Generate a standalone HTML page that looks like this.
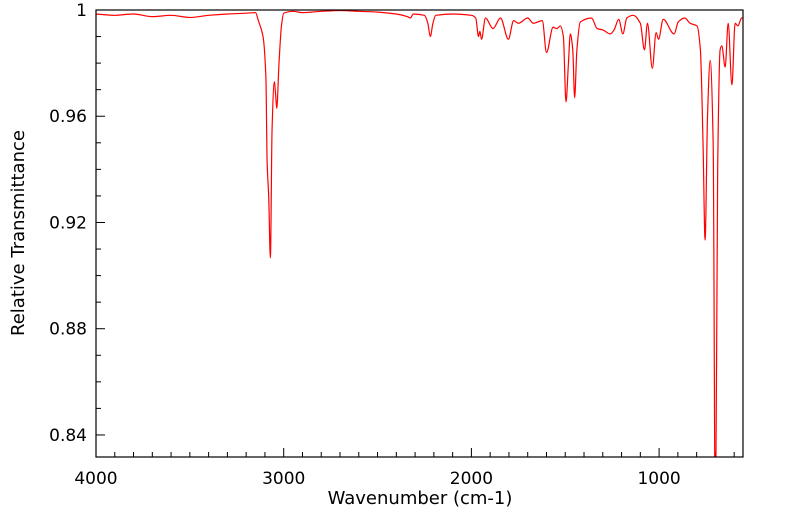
<!DOCTYPE html>
<html><head><meta charset="utf-8"><style>
body{margin:0;background:#fff;}
svg{display:block;font-family:"DejaVu Sans","Liberation Sans",sans-serif;}
</style></head><body>
<svg id="chart" width="799" height="516">
<defs><clipPath id="clip"><rect x="96" y="10" width="647" height="447"/></clipPath></defs>
<g id="axes"></g>
<g clip-path="url(#clip)"><path id="spectrum" fill="none" stroke="#ff0000" stroke-width="1.2"/></g>
<rect x="96" y="10" width="647" height="447" fill="none" stroke="#000" stroke-width="1.2"/>
<text x="420" y="504" font-size="18" text-anchor="middle">Wavenumber (cm-1)</text>
<text x="24" y="233" font-size="18" text-anchor="middle" transform="rotate(-90 24 233)">Relative Transmittance</text>
</svg>
<script>
const wavenumbers=[4000,3900,3800,3700,3600,3500,3400,3300,3200,3150,3135,3110,3095,3088,3080,3071,3062,3050,3043,3037,3025,3012,3000,2950,2900,2800,2700,2600,2500,2400,2340,2325,2310,2250,2232,2219,2205,2190,2100,2000,1977,1962,1955,1946,1925,1885,1845,1803,1775,1750,1700,1670,1622,1600,1565,1545,1526,1510,1496,1483,1473,1460,1450,1438,1420,1360,1330,1300,1260,1240,1215,1193,1172,1138,1100,1078,1062,1036,1016,1003,978,920,898,863,835,798,780,766,755,742,728,712,700,688,675,666,648,632,612,595,580,560,550];
const transmittances=[0.9985,0.998,0.9985,0.9975,0.998,0.9972,0.998,0.9985,0.9988,0.999,0.996,0.99,0.975,0.942,0.93,0.9067,0.955,0.973,0.968,0.963,0.98,0.994,0.9988,0.9995,0.999,0.9995,0.9998,0.9995,0.9992,0.9985,0.9975,0.997,0.9985,0.998,0.995,0.990,0.995,0.998,0.9985,0.998,0.997,0.990,0.992,0.989,0.997,0.993,0.997,0.989,0.996,0.995,0.997,0.995,0.996,0.984,0.9935,0.993,0.994,0.99,0.9654,0.98,0.991,0.985,0.967,0.985,0.9955,0.997,0.993,0.9925,0.991,0.9925,0.9965,0.991,0.997,0.998,0.995,0.985,0.995,0.978,0.9915,0.989,0.9965,0.991,0.9955,0.997,0.995,0.994,0.985,0.95,0.9134,0.96,0.981,0.95,0.80,0.94,0.985,0.9865,0.9785,0.995,0.9718,0.995,0.994,0.997,0.997];
const yTicks=[1,0.96,0.92,0.88,0.84];
const yTickLabels=["1","0.96","0.92","0.88","0.84"];
const xTicks=[4000,3000,2000,1000];
const xTickLabels=["4000","3000","2000","1000"];
const X0=96,X1=743,Y0=10,Y1=457,WMAX=4000,WMIN=553,TMAX=1,TMIN=0.8317;
function xs(w){return X0+(WMAX-w)/(WMAX-WMIN)*(X1-X0);}
function ys(t){return Y0+(TMAX-t)/(TMAX-TMIN)*(Y1-Y0);}
const NS="http://www.w3.org/2000/svg";
const ax=document.getElementById('axes');
function mk(tag,attrs){const e=document.createElementNS(NS,tag);for(const k in attrs)e.setAttribute(k,attrs[k]);ax.appendChild(e);return e;}
for(let w=4000;w>=600;w-=100){
  const major=w%1000===0;
  const l=mk('line',{x1:xs(w),x2:xs(w),y1:Y1,y2:Y1-(major?9:5),stroke:'#000','stroke-width':1});
  
  
}
xTicks.forEach((w,i)=>{
  const t=mk('text',{x:xs(w),y:484,'font-size':17,'text-anchor':'middle'});
  t.textContent=xTickLabels[i];
  
  
});
for(let k=0;k<=16;k++){
  const v=1-k*0.01; if(v<TMIN) break;
  const major=k%4===0;
  const l=mk('line',{x1:X0,x2:X0+(major?9:5),y1:ys(v),y2:ys(v),stroke:'#000','stroke-width':1});
  
  
}
yTicks.forEach((v,i)=>{
  const t=mk('text',{x:87,y:ys(v)+6,'font-size':17,'text-anchor':'end'});
  t.textContent=yTickLabels[i];
  
  
});
// monotone cubic path
const P=wavenumbers.map((w,i)=>[xs(w),ys(transmittances[i])]);
const n=P.length,d=[],m=[];
for(let i=0;i<n-1;i++)d.push((P[i+1][1]-P[i][1])/(P[i+1][0]-P[i][0]));
for(let i=0;i<n;i++){
  if(i===0)m.push(d[0]);else if(i===n-1)m.push(d[n-2]);
  else m.push(d[i-1]*d[i]<=0?0:2/(1/d[i-1]+1/d[i]));
}
let s='M'+P[0][0].toFixed(2)+','+P[0][1].toFixed(2);
for(let i=0;i<n-1;i++){
  const h=(P[i+1][0]-P[i][0])/3;
  s+=' C'+(P[i][0]+h).toFixed(2)+','+(P[i][1]+m[i]*h).toFixed(2)+' '+(P[i+1][0]-h).toFixed(2)+','+(P[i+1][1]-m[i+1]*h).toFixed(2)+' '+P[i+1][0].toFixed(2)+','+P[i+1][1].toFixed(2);
}
document.getElementById('spectrum').setAttribute('d',s);
</script>
</body></html>
